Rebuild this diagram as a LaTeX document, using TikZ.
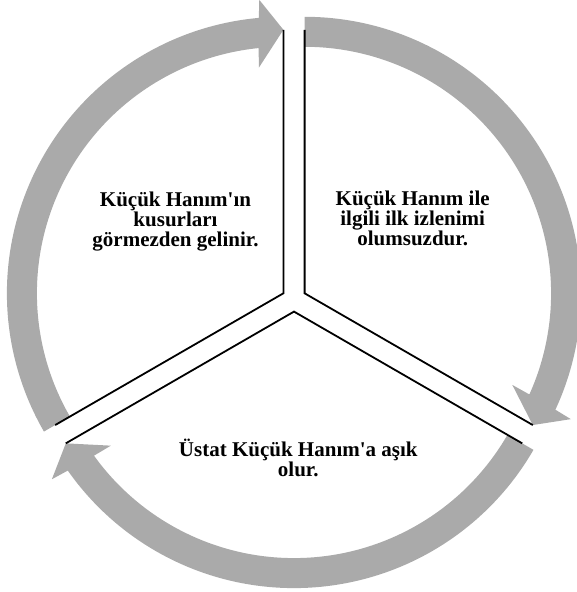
\documentclass[tikz,border=0pt]{standalone}
\usepackage{fontspec}
\setmainfont{Liberation Serif}[Ligatures=TeXOff]
\definecolor{arrowgray}{HTML}{AAAAAA}
\newcommand\cyclearrow[2]{%
  \fill[arrowgray, shift={(#1)}]
    ({#2+120}:276.5) arc[start angle={#2+120}, end angle={#2+5.1}, radius=276.5]
    -- ({#2+4.7}:294.5) -- (#2:263.5) -- ({#2+6.2}:227)
    -- ({#2+5.77}:246.5) arc[start angle={#2+5.77}, end angle={#2+120}, radius=246.5]
    -- cycle;}
\begin{document}
\begin{tikzpicture}[x=1pt,y=1pt,
  sectorline/.style={line width=1.8pt, black, line join=miter},
  textblock/.style={font=\fontsize{21}{20}\selectfont\bfseries, align=center, inner sep=0pt, anchor=base}]
\useasboundingbox (0,0) rectangle (576,592);
\coordinate (A1) at (283.4,298.7);
\coordinate (A2) at (304.6,298.7);
\coordinate (A3) at (294,280.4);
\cyclearrow{A1}{90}
\cyclearrow{A2}{-30}
\cyclearrow{A3}{210}
\path (A1) ++(90:263.5) coordinate (A1u);
\path (A1) ++(210:263.5) coordinate (A1l);
\path (A2) ++(90:263.5) coordinate (A2u);
\path (A2) ++(-30:263.5) coordinate (A2r);
\path (A3) ++(210:263.5) coordinate (A3l);
\path (A3) ++(-30:263.5) coordinate (A3r);
\draw[sectorline] (A1u) -- (A1) -- (A1l);
\draw[sectorline] (A2u) -- (A2) -- (A2r);
\draw[sectorline] (A3l) -- (A3) -- (A3r);
\node[textblock] (t1) at (175.5,345.3) {Küçük Hanım'ın\\kusurları\\görmezden gelinir.};
\node[textblock] (t2) at (412.7,346) {Küçük Hanım ile\\ilgili ilk izlenimi\\olumsuzdur.};
\node[textblock] (t3) at (298.3,115.3) {Üstat Küçük Hanım'a aşık\\olur.};
\end{tikzpicture}
\end{document}
